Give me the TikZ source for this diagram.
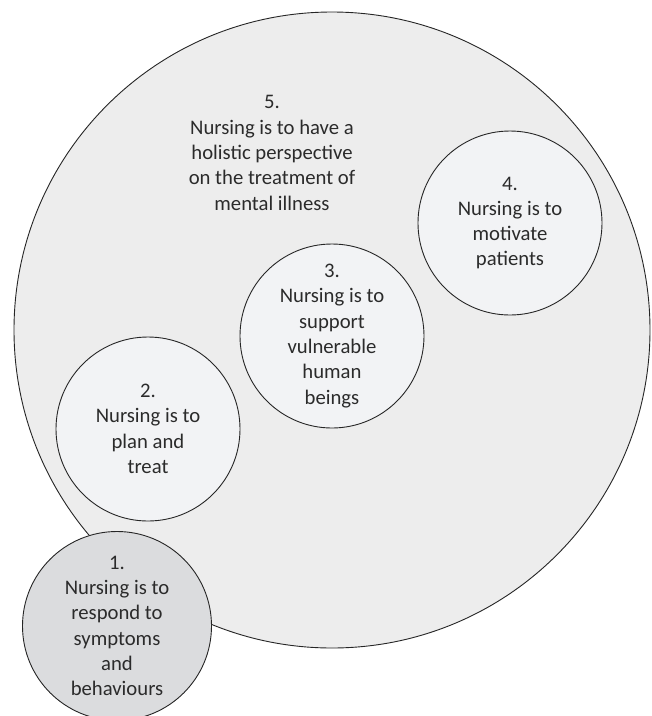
\documentclass[tikz,border=0pt]{standalone}
\usepackage{fontspec}
\setmainfont{Carlito}
\definecolor{outerfill}{HTML}{EDEDED}
\definecolor{innerfill}{HTML}{F2F3F5}
\definecolor{firstfill}{HTML}{DBDCDE}
\definecolor{inkline}{HTML}{262626}
\definecolor{inktext}{HTML}{2B2B2B}
\begin{document}
\begin{tikzpicture}[x=1pt,y=-1pt,
  bubble/.style={circle,draw=inkline,line width=0.9pt,inner sep=0pt,
    font=\fontsize{20.7}{25.3}\selectfont,text=inktext,align=center},
  innerbubble/.style={bubble,fill=innerfill,minimum size=184pt},
  label5/.style={font=\fontsize{20.7}{25.3}\selectfont,text=inktext,align=center,inner sep=0pt}]
\path[use as bounding box,clip] (0,0) rectangle (652,716);
\fill[white] (0,0) rectangle (652,716);
\node[bubble,fill=outerfill,minimum size=636pt] (c5) at (332,330) {};
\node[label5] (t5) at (272,153) {5.\\Nursing is to have a\\holistic perspective\\on the treatment of\\mental illness};
\node[innerbubble] (c2) at (148,429) {2.\\Nursing is to\\plan and\\treat};
\node[innerbubble] (c3) at (332,336) {3.\\Nursing is to\\support\\vulnerable\\human\\beings};
\node[innerbubble] (c4) at (510,223) {4.\\Nursing is to\\motivate\\patients};
\node[bubble,fill=firstfill,minimum size=189pt] (c1) at (117,626) {1.\\Nursing is to\\respond to\\symptoms\\and\\behaviours};
\end{tikzpicture}
\end{document}
